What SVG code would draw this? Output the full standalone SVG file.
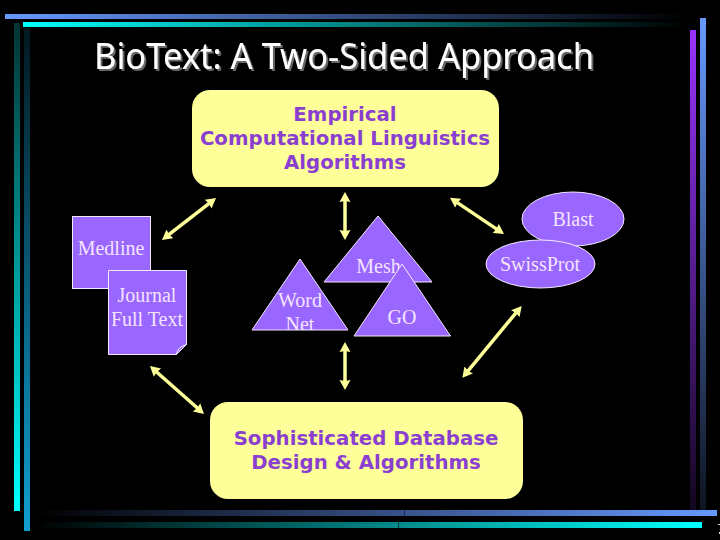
<svg xmlns="http://www.w3.org/2000/svg" width="720" height="540" viewBox="0 0 720 540">
<style>
.serif{font-family:"Liberation Serif",serif;font-size:20px;fill:#f4e4ff;text-anchor:middle}
.bold{font-family:"DejaVu Sans",sans-serif;font-weight:bold;font-size:19.750px;fill:#8a3fd1;text-anchor:middle}
.title{font-family:"Noto Sans",sans-serif;font-size:36px;fill:#fff}
.shape{fill:#9966ff;stroke:#f4e8ff;stroke-width:1}
.box{fill:#ffff99}
.arrow{stroke:#ffff99;stroke-width:3.500;fill:none;marker-start:url(#head);marker-end:url(#head)}
</style>
<defs>
<marker id="head" markerUnits="userSpaceOnUse" markerWidth="12" markerHeight="12" refX="3" refY="6" orient="auto-start-reverse"><path d="M0 0.500L10 6L0 11.500L1 6Z" fill="#ffff99"/></marker>
<filter id="shadow" x="-5%" y="-20%" width="110%" height="140%"><feDropShadow dx="2" dy="2" stdDeviation="0.300" flood-color="#666"/></filter>
<linearGradient id="gTopBlue" x1="0" x2="1" y1="0" y2="0"><stop offset="0" stop-color="#6699ff"/><stop offset="1" stop-color="#6699ff" stop-opacity="0"/></linearGradient>
<linearGradient id="gTopCyan" x1="0" x2="1" y1="0" y2="0"><stop offset="0" stop-color="#00ffff"/><stop offset="1" stop-color="#00ffff" stop-opacity="0"/></linearGradient>
<linearGradient id="gBotBlue" x1="1" x2="0" y1="0" y2="0"><stop offset="0" stop-color="#6699ff"/><stop offset="1" stop-color="#6699ff" stop-opacity="0"/></linearGradient>
<linearGradient id="gBotCyan" x1="1" x2="0" y1="0" y2="0"><stop offset="0" stop-color="#00ffff"/><stop offset="1" stop-color="#00ffff" stop-opacity="0"/></linearGradient>
<linearGradient id="gLeftCyan" x1="0" x2="0" y1="1" y2="0"><stop offset="0" stop-color="#00ffff"/><stop offset="1" stop-color="#00ffff" stop-opacity="0.2"/></linearGradient>
<linearGradient id="gLeftBlue" x1="0" x2="0" y1="1" y2="0"><stop offset="0" stop-color="#0f9fd0"/><stop offset="1" stop-color="#0f9fd0" stop-opacity="0.15"/></linearGradient>
<linearGradient id="gRightPurple" x1="0" x2="0" y1="0" y2="1"><stop offset="0" stop-color="#9933ff"/><stop offset="1" stop-color="#9933ff" stop-opacity="0.12"/></linearGradient>
<linearGradient id="gRightBlue" x1="0" x2="0" y1="0" y2="1"><stop offset="0" stop-color="#6699ff"/><stop offset="1" stop-color="#6699ff" stop-opacity="0.12"/></linearGradient>
</defs>
<rect width="720" height="540" fill="#000"/>
<g id="frame">
<rect x="14" y="23" width="6" height="488" fill="url(#gLeftCyan)"/>
<rect x="24" y="28" width="6" height="503" fill="url(#gLeftBlue)"/>
<rect x="690" y="30" width="6" height="480" fill="url(#gRightPurple)"/>
<rect x="700" y="18" width="6" height="498" fill="url(#gRightBlue)"/>
<rect x="5" y="14" width="685" height="5" fill="url(#gTopBlue)"/>
<rect x="23" y="22" width="667" height="5" fill="url(#gTopCyan)"/>
<rect x="35" y="510" width="682" height="6" fill="url(#gBotBlue)"/>
<rect x="35" y="522" width="667" height="6" fill="url(#gBotCyan)"/>
<rect x="404" y="510" width="1" height="6" fill="#1a2a50"/>
<rect x="398" y="522" width="1" height="6" fill="#0a3a3a"/>
<rect x="718" y="524" width="2" height="1" fill="#ddd"/>
<rect x="719" y="532" width="1" height="2" fill="#ddd"/>
</g>
<g id="title">
<text class="title" x="94" y="69" textLength="500" lengthAdjust="spacingAndGlyphs" filter="url(#shadow)">BioText: A Two-Sided Approach</text>
</g>
<g id="connectors">
<line class="arrow" x1="167.500" y1="235.700" x2="210.500" y2="202.300"/>
<line class="arrow" x1="345" y1="199" x2="345" y2="233"/>
<line class="arrow" x1="455.800" y1="201.600" x2="498.200" y2="230.100"/>
<line class="arrow" x1="517.200" y1="311.400" x2="466.800" y2="372.300"/>
<line class="arrow" x1="345" y1="349" x2="345" y2="383"/>
<line class="arrow" x1="155.200" y1="370.700" x2="198.800" y2="409.300"/>
</g>
<g id="node-empirical">
<rect class="box" x="192" y="90" width="307" height="97" rx="18"/>
<text class="bold" x="345" y="121">Empirical</text>
<text class="bold" x="345" y="145">Computational Linguistics</text>
<text class="bold" x="345" y="169">Algorithms</text>
</g>
<g id="node-medline">
<rect class="shape" x="72.500" y="216.500" width="78" height="72"/>
<text class="serif" x="111" y="255">Medline</text>
</g>
<g id="node-journal">
<path class="shape" d="M108.500 270.500H186.500V344.500L176.500 354.500H108.500Z"/>
<path d="M176.500 354.500Q177 347 186.500 344.500Q181 349 176.500 354.500Z" fill="#9966ff" stroke="#f4e8ff"/>
<text class="serif" x="147" y="301.500">Journal</text>
<text class="serif" x="147" y="325.500">Full Text</text>
</g>
<g id="node-mesh">
<polygon class="shape" points="378,216 432,282 324,282"/>
<text class="serif" x="378.500" y="273">Mesh</text>
</g>
<g id="node-wordnet">
<polygon class="shape" points="300,259 348,330 252,330"/>
<clipPath id="wnClip"><rect x="240" y="250" width="120" height="80"/></clipPath>
<g clip-path="url(#wnClip)">
<text class="serif" x="300" y="307">Word</text>
<text class="serif" x="300" y="331">Net</text>
</g>
</g>
<g id="node-go">
<polygon class="shape" points="402,264 450.500,336 354,336"/>
<text class="serif" x="402" y="324">GO</text>
</g>
<g id="node-blast">
<ellipse class="shape" cx="573" cy="219" rx="51" ry="27"/>
<text class="serif" x="573" y="226">Blast</text>
</g>
<g id="node-swissprot">
<ellipse class="shape" cx="540.500" cy="264" rx="54.500" ry="24"/>
<text class="serif" x="540" y="271">SwissProt</text>
</g>
<g id="node-database">
<rect class="box" x="210" y="402" width="313" height="97" rx="18"/>
<text class="bold" x="366" y="445">Sophisticated Database</text>
<text class="bold" x="366" y="469">Design &amp; Algorithms</text>
</g>
</svg>
